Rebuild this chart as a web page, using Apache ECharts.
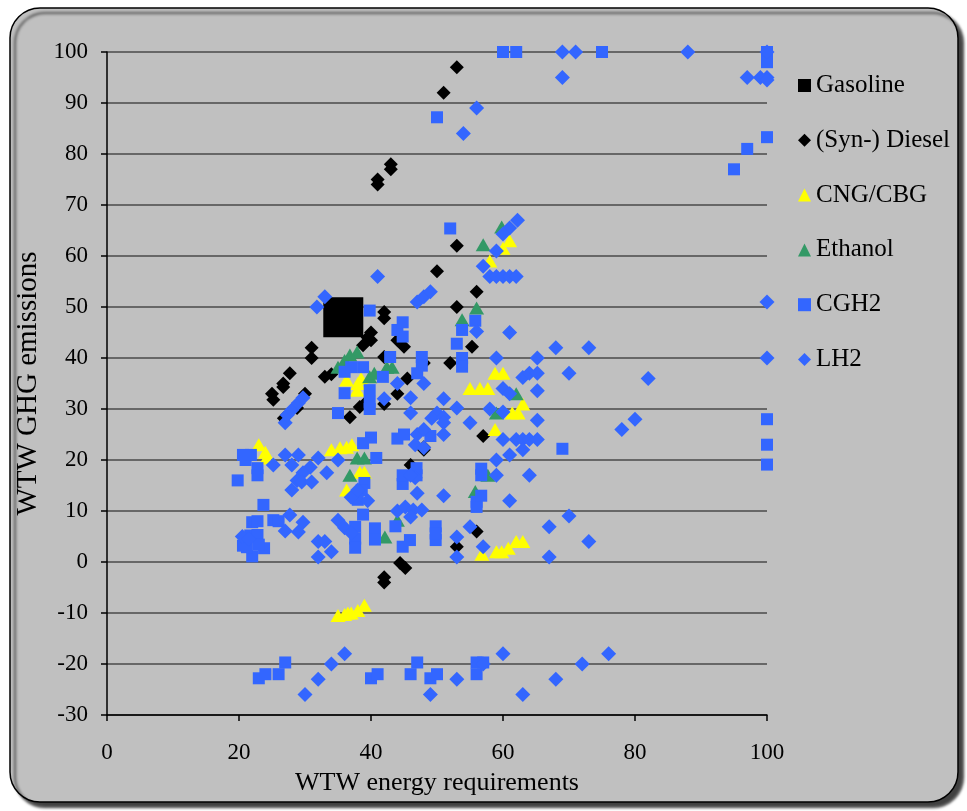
<!DOCTYPE html>
<html>
<head>
<meta charset="utf-8">
<script src="https://cdn.jsdelivr.net/npm/echarts@6/dist/echarts.min.js"></script>
<style>
html,body{margin:0;padding:0;background:#fff;}
#c{width:967px;height:811px;}
</style>
</head>
<body>
<div id="c"></div>
<script>
const xTicks = [0, 20, 40, 60, 80, 100];
const yTicks = [-30, -20, -10, 0, 10, 20, 30, 40, 50, 60, 70, 80, 90, 100];

const gasolinePoints = [[35.8, 48]];

const dieselPoints = [
  [53,97],[51,92],[41,75],[41,74],[43,78],[43,77],[53,62],[50,57],[56,53],[53,50],
  [42,49],[42,47.8],[40,45],[39.5,44],[38.8,42.5],[31,42],[31,40],[27.7,37],[26.7,35],[26.7,34.3],
  [25,33],[25.2,31.8],[30,33],[28.8,30.2],[26.8,28.2],[33,36.3],[34,36.8],[42,40.2],[44,43.5],[45,42.2],
  [45.5,36],[48,39],[52,39],[55.3,42.2],[36.8,28.4],[38.3,30.4],[39,31],[42,31],[44,33],[57,24.7],
  [48,22.5],[48,22],[46,19],[56,6],[53,3],[44.4,-0.2],[45.2,-1.2],[42,-3],[42,-4],[40,43.5]
];

const cngPoints = [
  [61,63],[60,61.5],[58,59],[55,34],[56.5,34],[57.7,34],[58.8,37],[60,37],[58.8,26],[61.4,29.2],
  [62.3,29.2],[63,31],[56.8,1.5],[59,2],[59.8,2],[60.8,2.7],[62,4],[63,4],[35,-10.5],[36,-10.3],
  [37,-10],[38,-9.5],[39,-8.5],[36.5,-10],[23,23],[24,21.5],[24.2,20.4],[34,22],[35.3,22.4],[36.3,22.5],
  [37.1,23],[36.3,14.1],[38.3,17.6],[39,17.6],[36.3,35.7],[37.9,33.7],[38,35],[38.5,36]
];

const ethanolPoints = [
  [57,62.2],[59.8,65.7],[53.8,47.5],[56,49.8],[62,33],[59,29.2],[57.7,17],[55.8,13.8],[37.9,41.2],[36.8,40.6],
  [35,38.2],[36,39.5],[39.8,36.3],[40.5,37],[42.4,38.2],[43.2,38.2],[37.9,20.4],[39,20.4],[36.8,17],[42.1,4.9],
  [44,8.2]
];

const cgh2Points = [
  [60,100],[62,100],[75,100],[100,100],[100,99],[100,98],[50,87.2],[95,77],[97,81],[100,83.3],
  [52,65.4],[39.8,49.3],[55.8,47.3],[53.8,45.5],[53,42.8],[53.8,40],[53.8,38.3],[44,45.5],[44.8,47],[44.8,44.2],
  [42.9,40.2],[47.7,40.2],[47.7,38.5],[47,37],[41.8,36.3],[36,37.3],[37,38.2],[38.8,38.2],[36,33.1],[35,29.2],
  [39.8,33.7],[39.8,31.4],[39.8,30],[40,24.4],[38.8,23.3],[40.8,20.4],[39,15.5],[38.6,14.1],[38,12.2],[44,24.2],
  [45,25],[44.8,15.3],[44.8,17],[46.9,18.4],[46.9,17],[49,24.7],[56.7,18.3],[56.7,17],[56,11.8],[56,10.8],
  [56.7,13],[69,22.2],[100,28],[100,23],[100,19.1],[19.8,16],[20.6,21],[21,20],[21.8,21],[22.8,18.4],
  [22.8,17],[23.7,11.2],[22,7.8],[22.8,8],[25.2,8.2],[26,8],[20.6,3.2],[21.7,5.2],[22.8,5.3],[23.8,2.7],
  [22,1.1],[21.2,2.9],[23,3.4],[38.8,9.3],[37.6,6.9],[37.6,4.6],[37.6,2.8],[40.6,6.6],[40.6,4.4],[43.7,7],
  [44.8,3],[45.9,4.3],[49.8,7],[49.8,4.3],[49.8,5.6],[23,-22.8],[24,-22],[26,-22],[27,-19.7],[40,-22.8],
  [41,-22],[46,-22],[47,-19.7],[49,-22.8],[50,-22],[56,-19.7],[56,-22],[57,-19.7]
];

const lh2Points = [
  [69,100],[71,100],[88,100],[100,100],[69,95],[97,95],[99,95],[100,95],[100,94.5],[56,89],
  [54,84],[62.2,67],[61,65.5],[60,64.3],[59,61],[57,58],[58,56],[59,56],[60,56],[61,56],
  [62,56],[41,56],[100,51],[100,40],[33,52],[31.8,50],[47,51],[48,52],[49,53],[61,45],
  [56,45.2],[59,40],[65.2,40],[68,42],[73,42],[70,37],[82,36],[63,36.2],[64,37],[65.2,37],
  [60,34],[61,33],[65.2,33.6],[58,30],[60,29.4],[65.2,27.8],[55,27.3],[53,30.2],[51,32],[50,29.2],
  [49.2,28.2],[51,28.4],[51,27.3],[51,25],[47,25],[48,26],[46,29.2],[44,35],[48,35],[46,32.2],
  [42,32],[60,24],[62,24],[63,24],[64,24],[65.2,24],[63,22],[59,20],[61,21],[64,17],
  [59,17],[61,12],[78,26],[80,28],[70,9],[67,6.9],[73,4],[67,1],[53,4.9],[53,1],
  [57,3],[55,6.9],[51,13],[47,13.5],[46.7,16.5],[46,17],[44,10],[45.2,10.8],[46.4,10.2],[47.7,10.2],
  [46,8.8],[37,12.7],[38,14.1],[39.5,12],[46.7,23],[48,22.4],[27,27.3],[27.3,28.8],[28,29.8],[29,31.2],
  [29.7,32.2],[27,21],[29,21],[25.2,19],[28,19],[30.8,18.6],[32,20.4],[33.3,17.5],[29.7,17.5],[28.8,16],
  [28,14.1],[29.5,15.7],[31,15.7],[35,20],[27.7,9.2],[29.7,7.8],[27,6.1],[29,5.9],[32,4],[33,4],
  [34,2],[32,1],[35,8.2],[36,6.7],[37,5.7],[20.5,5],[21.5,4.5],
  [30,-26],[32,-23],[34,-20],[36,-18],[49,-26],[53,-23],[57,-20],[60,-18],[63,-26],[68,-23],[72,-20],[76,-18]
];

const seriesNames = ['Gasoline', '(Syn-) Diesel', 'CNG/CBG', 'Ethanol', 'CGH2', 'LH2'];

const FONT = 'Liberation Serif';
const chart = echarts.init(document.getElementById('c'), null, {renderer: 'canvas'});

chart.setOption({
  animation: false,
  backgroundColor: 'transparent',
  graphic: [{
    type: 'rect',
    z: -10,
    silent: true,
    shape: {x: 10, y: 8, width: 948, height: 794, r: 30},
    style: {
      fill: '#c0c0c0', stroke: '#000', lineWidth: 1.5,
      shadowColor: 'rgba(0,0,0,0.75)', shadowBlur: 3, shadowOffsetX: 5, shadowOffsetY: 5
    }
  }],
  grid: {left: 107, top: 52, width: 660, height: 663, containLabel: false},
  legend: {
    orient: 'vertical', left: 793, top: 68,
    itemGap: 29.8, itemWidth: 13, itemHeight: 13, itemTextGap: 7,
    data: seriesNames,
    textStyle: {fontSize: 25, fontFamily: FONT, color: '#000', lineHeight: 22}
  },
  xAxis: {
    type: 'value', min: xTicks[0], max: xTicks[xTicks.length - 1], interval: 20,
    name: 'WTW energy requirements', nameLocation: 'middle', nameGap: 55,
    nameTextStyle: {fontSize: 26, fontFamily: FONT, color: '#000'},
    axisLine: {show: true, onZero: false, lineStyle: {color: '#000', width: 1.5}},
    axisTick: {show: true, length: 6, lineStyle: {color: '#000', width: 1.5}},
    axisLabel: {fontSize: 23, fontFamily: FONT, color: '#000', margin: 26},
    splitLine: {show: false}
  },
  yAxis: {
    type: 'value', min: yTicks[0], max: yTicks[yTicks.length - 1], interval: 10,
    name: 'WTW GHG emissions', nameLocation: 'middle', nameGap: 62,
    nameTextStyle: {fontSize: 29, fontFamily: FONT, color: '#000'},
    axisLine: {show: true, onZero: false, lineStyle: {color: '#000', width: 1.5}},
    axisTick: {show: true, length: 6, lineStyle: {color: '#000', width: 1.5}},
    axisLabel: {fontSize: 23, fontFamily: FONT, color: '#000', margin: 19},
    splitLine: {show: true, lineStyle: {color: '#4a4a4a', width: 1.5}}
  },
  series: [
    {name: seriesNames[0], type: 'scatter', symbol: 'rect', symbolSize: 40, data: gasolinePoints,
     itemStyle: {color: '#000', opacity: 1}},
    {name: seriesNames[1], type: 'scatter', symbol: 'diamond', symbolSize: 14, data: dieselPoints,
     itemStyle: {color: '#000', opacity: 1}},
    {name: seriesNames[2], type: 'scatter', symbol: 'triangle', symbolSize: [15, 13], data: cngPoints,
     itemStyle: {color: '#ffff00', opacity: 1}},
    {name: seriesNames[3], type: 'scatter', symbol: 'triangle', symbolSize: [15, 13], data: ethanolPoints,
     itemStyle: {color: '#339966', opacity: 1}},
    {name: seriesNames[4], type: 'scatter', symbol: 'rect', symbolSize: 12, data: cgh2Points,
     itemStyle: {color: '#3366ff', opacity: 1}},
    {name: seriesNames[5], type: 'scatter', symbol: 'diamond', symbolSize: 15, data: lh2Points,
     itemStyle: {color: '#3366ff', opacity: 1}}
  ]
});
</script>
</body>
</html>
